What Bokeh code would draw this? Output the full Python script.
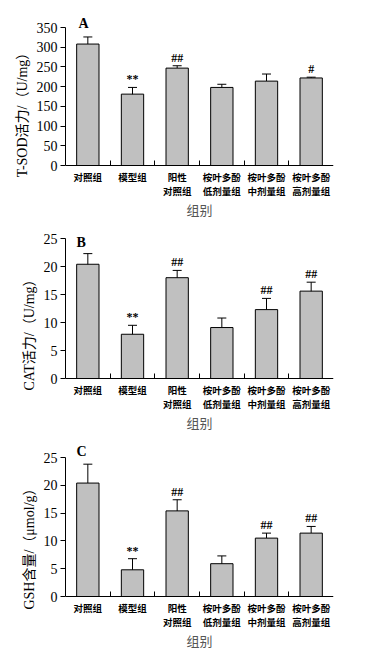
from bokeh.plotting import figure
from bokeh.layouts import column
from bokeh.models import Range1d, FixedTicker, Whisker, ColumnDataSource, TeeHead
from bokeh.core.properties import value
from bokeh.embed import file_html
from bokeh.resources import INLINE

groups = ["对照组", "模型组", "阳性\n对照组", "桉叶多酚\n低剂量组", "桉叶多酚\n中剂量组", "桉叶多酚\n高剂量组"]
positions = [1, 2, 3, 4, 5, 6]
x_title = "组别"

sod_mean = [308, 181, 247, 198, 214, 222]
sod_err = [18, 17, 6, 8, 18, 2]
sod_marks = ["", "**", "##", "", "", "#"]

cat_mean = [20.4, 7.9, 18.0, 9.1, 12.3, 15.6]
cat_err = [1.9, 1.6, 1.3, 1.7, 2.0, 1.6]
cat_marks = ["", "**", "##", "", "##", "##"]

gsh_mean = [20.4, 4.8, 15.4, 5.9, 10.5, 11.4]
gsh_err = [3.4, 2.0, 2.0, 1.4, 0.9, 1.2]
gsh_marks = ["", "**", "##", "", "##", "##"]

SERIF = "'Liberation Serif', 'Noto Sans CJK SC'"
CJK = "Noto Sans CJK SC"

line1 = [g.split("\n")[0] for g in groups]
line2 = [g.split("\n")[1] if "\n" in g else "" for g in groups]


def panel(letter, means, errs, marks, ymax, ystep, ylabel,
          fig_top, fig_bot, top_px, zero_px, left, right, letter_dx, letter_dy):
    border_bottom = 2
    height = fig_bot - fig_top
    frame_top = fig_top
    frame_bot = fig_bot - border_bottom
    s = (zero_px - top_px) / ymax          # pixels per unit
    yend = ymax + (top_px - frame_top) / s
    ystart = -(frame_bot - zero_px) / s

    p = figure(width=350, height=height, output_backend="svg", toolbar_location=None,
               x_range=Range1d(0.5, 6.5), y_range=Range1d(ystart, yend),
               min_border_left=left, min_border_right=right,
               min_border_top=0, min_border_bottom=border_bottom)
    p.outline_line_color = None
    p.xgrid.visible = False
    p.ygrid.visible = False
    p.background_fill_color = "white"

    src = ColumnDataSource(dict(
        x=positions, top=means,
        upper=[m + e for m, e in zip(means, errs)],
        lower=[m - e for m, e in zip(means, errs)],
        marks=marks, l1=line1, l2=line2,
    ))
    p.vbar(x="x", top="top", bottom=0, width=0.5, source=src,
           fill_color="#c0c0c0", line_color="black", line_width=1)
    w = Whisker(source=src, base="x", upper="upper", lower="lower",
                line_color="black", line_width=1,
                upper_head=TeeHead(size=9, line_color="black", line_width=1),
                lower_head=TeeHead(size=9, line_color="black", line_width=1))
    p.add_layout(w)
    p.text(x="x", y="upper", text="marks", source=src, text_align="center",
           text_baseline="bottom", y_offset=-1,
           text_font=value("Liberation Serif"), text_font_size="12px",
           text_font_style="bold", text_color="black")

    # category labels below the x axis (two lines)
    for col, off in (("l1", 11), ("l2", 25)):
        p.text(x="x", y=0, text=col, source=src, text_align="center",
               text_baseline="middle", y_offset=off,
               text_font=value(CJK), text_font_size="9.5px",
               text_font_style="bold", text_color="black")
    # x axis title
    p.text(x=[3.5], y=[0], text=[x_title], text_align="center",
           text_baseline="middle", y_offset=44,
           text_font=value(CJK), text_font_size="13px", text_color="#555555")
    # panel letter
    p.text(x=[0.5], y=[ymax], text=[letter], text_align="left",
           text_baseline="alphabetic", x_offset=letter_dx, y_offset=letter_dy,
           text_font=value("Liberation Serif"), text_font_size="14px",
           text_font_style="bold", text_color="black")

    # y axis
    ya = p.yaxis[0]
    ya.bounds = (0, ymax)
    ya.ticker = FixedTicker(ticks=list(range(0, ymax + 1, ystep)))
    ya.major_tick_in = 0
    ya.major_tick_out = 5
    ya.minor_tick_out = 0
    ya.minor_tick_in = 0
    ya.axis_line_color = "black"
    ya.major_label_text_font = SERIF
    ya.major_label_text_font_size = "14px"
    ya.major_label_text_color = "black"
    ya.axis_label = ylabel
    ya.axis_label_text_font = SERIF
    ya.axis_label_text_font_size = "14px"
    ya.axis_label_text_font_style = "normal"
    ya.axis_label_text_color = "black"
    ya.axis_label_standoff = 4
    ya.major_label_standoff = 3

    # x axis drawn at y = 0, ticks only between the groups
    xa = p.xaxis[0]
    xa.fixed_location = 0
    xa.ticker = FixedTicker(ticks=[], minor_ticks=[1.5, 2.5, 3.5, 4.5, 5.5])
    xa.major_tick_in = 0
    xa.major_tick_out = 0
    xa.minor_tick_in = 5
    xa.minor_tick_out = 0
    xa.axis_line_color = "black"
    xa.major_label_standoff = 0
    return p


pa = panel("A", sod_mean, sod_err, sod_marks, 350, 50, "T-SOD活力/（U/mg）",
           0, 224, 27, 165, 65, 15, 13, -4)
pb = panel("B", cat_mean, cat_err, cat_marks, 25, 5, "CAT活力/（U/mg）",
           224, 440, 238, 378, 62, 17, 11, 4)
pc = panel("C", gsh_mean, gsh_err, gsh_marks, 25, 5, "GSH含量/（μmol/g）",
           440, 652, 457, 596, 62, 17, 11, -6)

layout = column(pa, pb, pc, spacing=0)
open("out.html", "w").write(file_html(layout, INLINE))
